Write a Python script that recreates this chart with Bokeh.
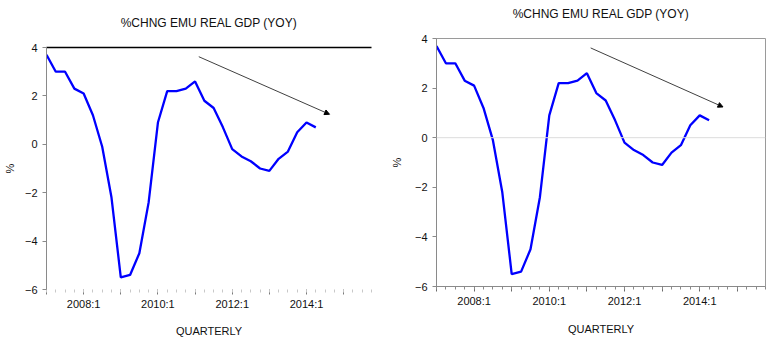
from bokeh.plotting import figure
from bokeh.layouts import row, column
from bokeh.models import FixedTicker, Span, Arrow, NormalHead, LinearAxis
from bokeh.embed import file_html
from bokeh.resources import INLINE

# ---- data ----
quarters = ["2007:1", "2007:2", "2007:3", "2007:4",
            "2008:1", "2008:2", "2008:3", "2008:4",
            "2009:1", "2009:2", "2009:3", "2009:4",
            "2010:1", "2010:2", "2010:3", "2010:4",
            "2011:1", "2011:2", "2011:3", "2011:4",
            "2012:1", "2012:2", "2012:3", "2012:4",
            "2013:1", "2013:2", "2013:3", "2013:4",
            "2014:1", "2014:2"]
gdp_yoy = [3.7, 3.0, 3.0, 2.3,
           2.1, 1.2, -0.1, -2.2,
           -5.5, -5.4, -4.5, -2.4,
           0.9, 2.2, 2.2, 2.3,
           2.6, 1.8, 1.5, 0.7,
           -0.2, -0.5, -0.7, -1.0,
           -1.1, -0.6, -0.3, 0.5,
           0.9, 0.7]
y_ticks = [-6, -4, -2, 0, 2, 4]
year_ticks = [2007, 2008, 2009, 2010, 2011, 2012, 2013, 2014, 2015]
labelled_years = {2008: "2008:1", 2010: "2010:1", 2012: "2012:1", 2014: "2014:1"}
arrow_start = (2011.1, 3.62)
arrow_end = (2014.62, 1.24)
title_text = "%CHNG EMU REAL GDP (YOY)"
x_title = "QUARTERLY"
y_title = "%"


def q_to_x(q):
    y, n = q.split(":")
    return int(y) + (int(n) - 1) / 4.0


xs = [q_to_x(q) for q in quarters]
minor = [2007 + i * 0.25 for i in range(36)]
overrides = {yr: labelled_years.get(yr, "") for yr in year_ticks}

FONT = "Liberation Sans"
X0, X1 = 2007.0, 2015.75


def make_panel(width, left, right, top, bottom, framed, xlab_standoff,
               ylab_standoff, title_standoff):
    p = figure(width=width, height=354, output_backend="svg", toolbar_location=None,
               x_range=(X0, X1), y_range=(-6, 4),
               min_border_left=left, min_border_right=right,
               min_border_top=top, min_border_bottom=bottom)
    p.xgrid.visible = False
    p.ygrid.visible = False
    p.background_fill_color = "white"
    p.border_fill_color = "white"

    xa = p.below[0]
    ya = p.left[0]

    xa.ticker = FixedTicker(ticks=year_ticks, minor_ticks=minor)
    xa.major_label_overrides = overrides
    xa.major_label_text_font = FONT
    xa.major_label_text_font_size = "11px"
    xa.major_label_text_color = "#111111"
    xa.major_tick_in = 0
    xa.major_tick_out = 5
    xa.minor_tick_in = 0
    xa.minor_tick_out = 3
    xa.major_label_standoff = 3
    xa.axis_label = x_title
    xa.axis_label_text_font = FONT
    xa.axis_label_text_font_size = "11px"
    xa.axis_label_text_font_style = "normal"
    xa.axis_label_text_color = "#111111"
    xa.axis_label_standoff = xlab_standoff

    ya.ticker = FixedTicker(ticks=y_ticks)
    ya.major_label_text_font = FONT
    ya.major_label_text_font_size = "11px"
    ya.major_label_text_color = "#111111"
    ya.major_tick_in = 0
    ya.major_tick_out = 4
    ya.minor_tick_line_color = None
    ya.major_label_standoff = 5
    ya.axis_line_color = "#8a8a8a"
    ya.major_tick_line_color = "#8a8a8a"
    ya.axis_label = y_title
    ya.axis_label_text_font = FONT
    ya.axis_label_text_font_size = "11px"
    ya.axis_label_text_font_style = "normal"
    ya.axis_label_text_color = "#111111"
    ya.axis_label_standoff = ylab_standoff

    # title: label of a tick-less axis above the frame
    top_axis = LinearAxis(ticker=FixedTicker(ticks=[]), axis_label=title_text,
                          major_tick_out=0, major_tick_in=0, minor_tick_out=0,
                          minor_tick_in=0, major_label_standoff=0,
                          major_tick_line_color=None, minor_tick_line_color=None,
                          axis_label_standoff=title_standoff,
                          axis_label_text_font=FONT, axis_label_text_font_size="12px",
                          axis_label_text_font_style="normal",
                          axis_label_text_color="#111111")

    if framed:
        top_axis.axis_line_color = None
        p.outline_line_color = "#9a9a9a"
        p.outline_line_width = 1
        xa.axis_line_color = "#8a8a8a"
        xa.major_tick_line_color = "#6a6a6a"
        xa.minor_tick_line_color = "#8a8a8a"
        p.add_layout(Span(location=0, dimension="width",
                          line_color="#dcdcdc", line_width=1))
    else:
        top_axis.axis_line_color = "black"
        top_axis.axis_line_width = 1.5
        p.outline_line_color = None
        xa.axis_line_color = None
        xa.major_tick_line_color = "#7a7a7a"
        xa.minor_tick_line_color = "#c8c8c8"
    p.add_layout(top_axis, "above")

    p.line(xs, gdp_yoy, line_color="#0000ff", line_width=2.3)
    p.add_layout(Arrow(end=NormalHead(size=5, fill_color="black", line_color="black",
                                      line_width=1),
                       x_start=arrow_start[0], y_start=arrow_start[1],
                       x_end=arrow_end[0], y_end=arrow_end[1],
                       line_color="#404040", line_width=1))
    return p


p1 = make_panel(385, 46, 14, 47, 65, framed=False, xlab_standoff=12,
                ylab_standoff=6, title_standoff=18)
p2 = make_panel(386, 51, 6, 38, 68, framed=True, xlab_standoff=13,
                ylab_standoff=9, title_standoff=18)

layout = row(column(p1), column(p2))
open("out.html", "w").write(file_html(layout, INLINE))
